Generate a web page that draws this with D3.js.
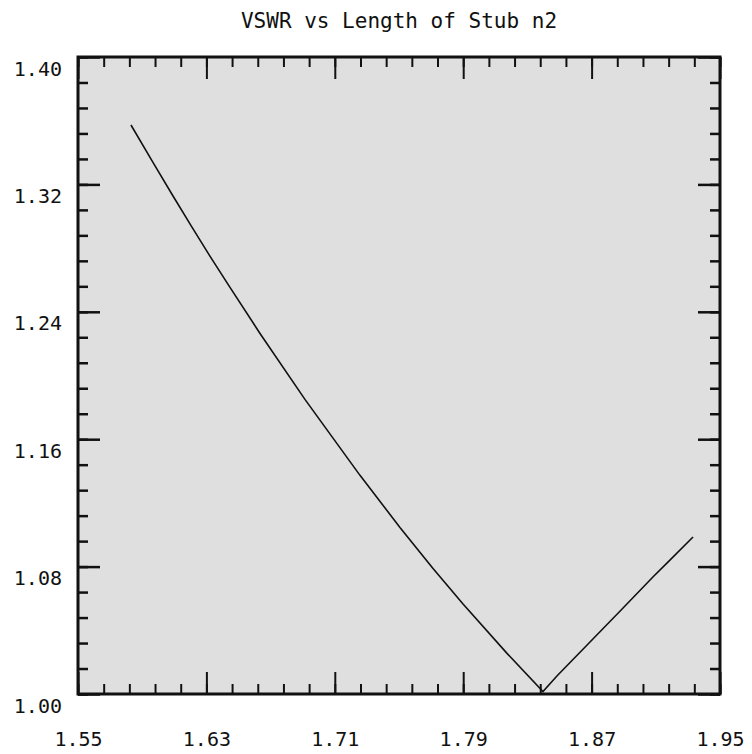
<!DOCTYPE html>
<html>
<head>
<meta charset="utf-8">
<script src="https://cdn.jsdelivr.net/npm/d3@7"></script>
<style>
  body { margin: 0; background: #fff; }
  text { font-family: 'DejaVu Sans Mono', monospace; fill: #111; }
</style>
</head>
<body>
<div id="chart"></div>
<script>
const titleText = 'VSWR vs Length of Stub n2';

// stub length (x) and VSWR (y)
const stubLength = [1.5830, 1.5967, 1.6092, 1.6210, 1.6322, 1.6447, 1.6634, 1.6914, 1.7257, 1.7506,
                    1.7712, 1.7899, 1.8173, 1.8397, 1.8484, 1.8678, 1.8896, 1.9082, 1.9188, 1.9332];
const vswr = [1.3573, 1.3338, 1.3127, 1.2932, 1.2750, 1.2553, 1.2264, 1.1850, 1.1373, 1.1046,
              1.0788, 1.0565, 1.0255, 1.0016, 1.0113, 1.0314, 1.0540, 1.0735, 1.0841, 1.0986];

const xTicks = [1.55, 1.63, 1.71, 1.79, 1.87, 1.95];
const yTicks = [1.00, 1.08, 1.16, 1.24, 1.32, 1.40];

const svgWidth = 752,
      svgHeight = 754;

const margin = { top: 57, right: 32, bottom: 60, left: 78 };
const width = svgWidth - margin.left - margin.right,
      height = svgHeight - margin.top - margin.bottom;

const svg = d3.select('#chart')
  .append('svg')
  .attr('width', svgWidth)
  .attr('height', svgHeight);

svg.append('text')
  .attr('x', margin.left + width / 2)
  .attr('y', 28)
  .attr('text-anchor', 'middle')
  .style('font-size', '21px')
  .text(titleText);

const g = svg.append('g')
  .attr('transform', `translate(${margin.left},${margin.top})`);

g.append('rect')
  .attr('width', width)
  .attr('height', height)
  .attr('fill', '#dfdfdf');

const x = d3.scaleLinear().domain([1.55, 1.95]).range([0, width]);
const y = d3.scaleLinear().domain([1.00, 1.40]).range([height, 0]);

// minor ticks: 5 subdivisions per major step
const xMinor = d3.range(0, 26).map(i => 1.55 + i * 0.016);
const yMinor = d3.range(0, 26).map(i => 1.00 + i * 0.016);

const minorLen = 10,
      majorLen = 22;

function styleAxis(sel, w) {
  sel.select('.domain').remove();
  sel.selectAll('line').attr('stroke', '#111').attr('stroke-width', w);
}

// minor ticks on all four sides
g.append('g').call(d3.axisLeft(y).tickValues(yMinor).tickSize(-minorLen).tickFormat(''))
  .call(s => styleAxis(s, 2.5));
g.append('g').attr('transform', `translate(${width},0)`)
  .call(d3.axisRight(y).tickValues(yMinor).tickSize(-minorLen).tickFormat(''))
  .call(s => styleAxis(s, 2.5));
g.append('g').attr('transform', `translate(0,${height})`)
  .call(d3.axisBottom(x).tickValues(xMinor).tickSize(-minorLen).tickFormat(''))
  .call(s => styleAxis(s, 2));
g.append('g')
  .call(d3.axisTop(x).tickValues(xMinor).tickSize(-minorLen).tickFormat(''))
  .call(s => styleAxis(s, 2));

// major ticks with labels
g.append('g')
  .call(d3.axisLeft(y).tickValues(yTicks).tickSize(-majorLen).tickPadding(16).tickFormat(d3.format('.2f')))
  .call(s => styleAxis(s, 2.5))
  .call(s => s.selectAll('text').attr('dy', 18).style('font-size', '20px').attr('fill', '#111'));

g.append('g').attr('transform', `translate(${width},0)`)
  .call(d3.axisRight(y).tickValues(yTicks).tickSize(-majorLen).tickFormat(''))
  .call(s => styleAxis(s, 2.5));

g.append('g').attr('transform', `translate(0,${height})`)
  .call(d3.axisBottom(x).tickValues(xTicks).tickSize(-majorLen).tickFormat(d3.format('.2f')))
  .call(s => styleAxis(s, 2))
  .call(s => s.selectAll('text').attr('y', 52).attr('dy', 0).style('font-size', '20px').attr('fill', '#111'));

g.append('g')
  .call(d3.axisTop(x).tickValues(xTicks).tickSize(-majorLen).tickFormat(''))
  .call(s => styleAxis(s, 2));

// data line
const line = d3.line()
  .x((d, i) => x(stubLength[i]))
  .y(d => y(d));

g.append('path')
  .datum(vswr)
  .attr('d', line)
  .attr('fill', 'none')
  .attr('stroke', '#111')
  .attr('stroke-width', 1.6);

// frame
g.append('rect')
  .attr('width', width)
  .attr('height', height)
  .attr('fill', 'none')
  .attr('stroke', '#111')
  .attr('stroke-width', 3);
</script>
</body>
</html>
